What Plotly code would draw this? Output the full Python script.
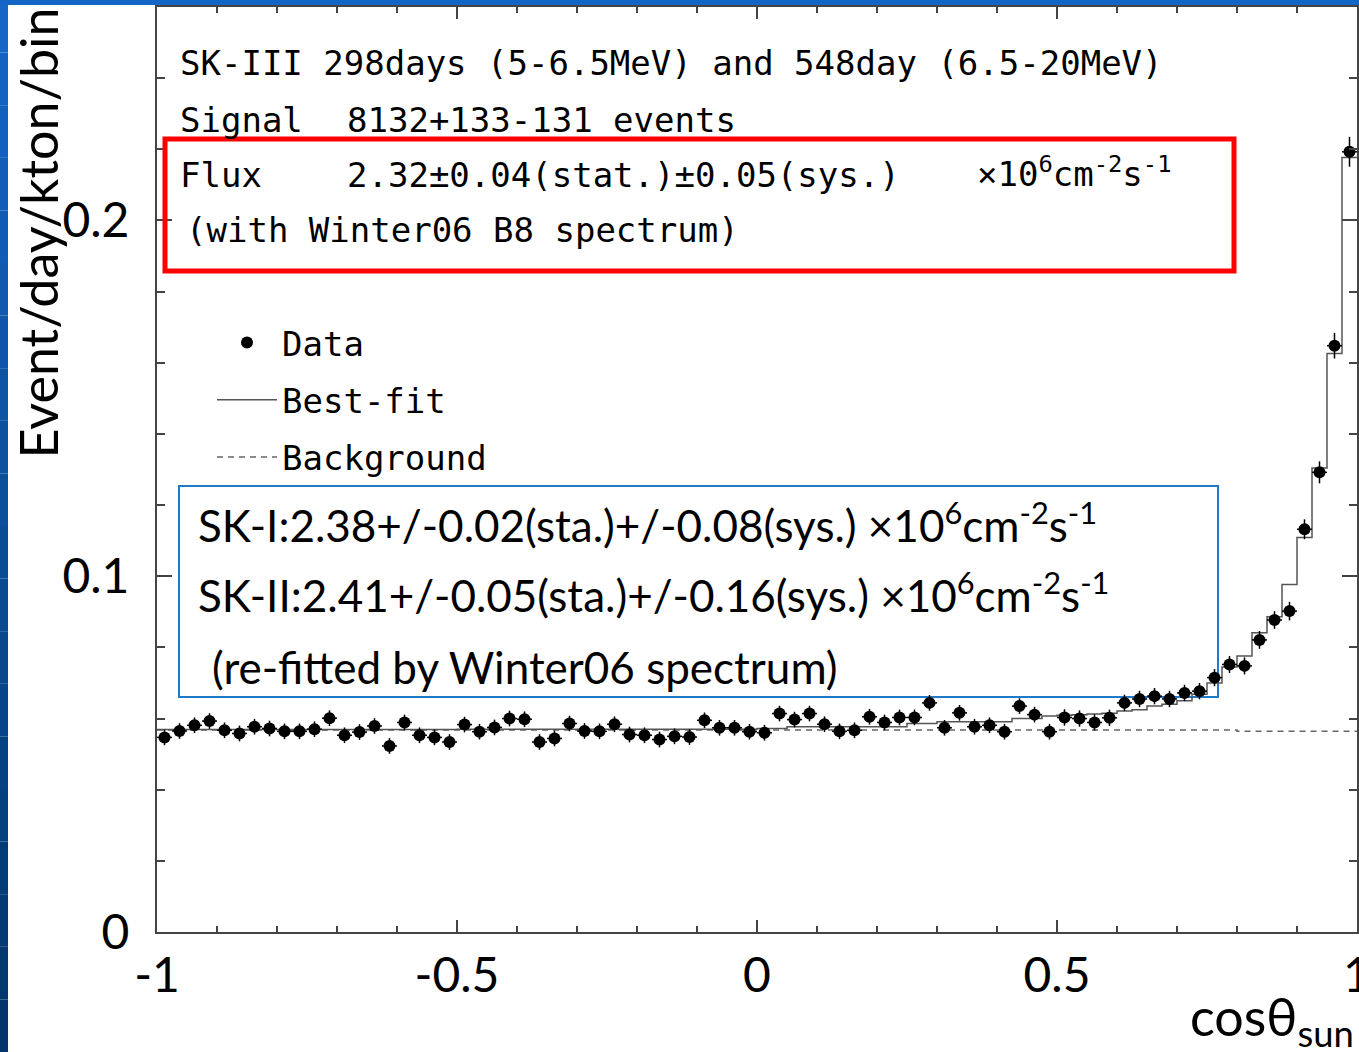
import numpy as np
import plotly.graph_objects as go

# ---------------- data ----------------
n_bins = 80
bin_edges = np.linspace(-1.0, 1.0, n_bins + 1)
bin_centers = 0.5 * (bin_edges[:-1] + bin_edges[1:])

data_values = [
    0.0547, 0.0565, 0.0581, 0.0593, 0.0567, 0.0558, 0.0577, 0.0572, 0.0564, 0.0564,
    0.0570, 0.0601, 0.0553, 0.0562, 0.0579, 0.0523, 0.0589, 0.0553, 0.0547, 0.0534,
    0.0583, 0.0563, 0.0575, 0.0600, 0.0598, 0.0534, 0.0544, 0.0586, 0.0565, 0.0564,
    0.0584, 0.0555, 0.0553, 0.0541, 0.0550, 0.0548, 0.0595, 0.0574, 0.0574, 0.0563,
    0.0560, 0.0614, 0.0597, 0.0614, 0.0584, 0.0564, 0.0567, 0.0605, 0.0589, 0.0603,
    0.0603, 0.0644, 0.0574, 0.0616, 0.0577, 0.0581, 0.0563, 0.0635, 0.0611, 0.0563,
    0.0603, 0.0600, 0.0589, 0.0602, 0.0644, 0.0655, 0.0663, 0.0655, 0.0672, 0.0677,
    0.0715, 0.0752, 0.0748, 0.0821, 0.0877, 0.0902, 0.1132, 0.1292, 0.1648, 0.2193,
]
data_errors = [
    0.0022, 0.0022, 0.0022, 0.0022, 0.0022, 0.0022, 0.0022, 0.0022, 0.0022, 0.0022,
    0.0022, 0.0022, 0.0022, 0.0022, 0.0022, 0.0022, 0.0022, 0.0022, 0.0022, 0.0022,
    0.0022, 0.0022, 0.0022, 0.0022, 0.0022, 0.0022, 0.0022, 0.0022, 0.0022, 0.0022,
    0.0022, 0.0022, 0.0022, 0.0022, 0.0022, 0.0022, 0.0022, 0.0022, 0.0022, 0.0022,
    0.0022, 0.0022, 0.0022, 0.0022, 0.0022, 0.0022, 0.0022, 0.0022, 0.0022, 0.0022,
    0.0022, 0.0022, 0.0022, 0.0022, 0.0022, 0.0022, 0.0022, 0.0022, 0.0022, 0.0022,
    0.0023, 0.0023, 0.0023, 0.0023, 0.0023, 0.0023, 0.0023, 0.0023, 0.0023, 0.0023,
    0.0024, 0.0024, 0.0024, 0.0025, 0.0025, 0.0026, 0.0028, 0.0031, 0.0036, 0.0042,
]
bestfit_values = [
    0.0569, 0.0569, 0.0569, 0.0569, 0.0569, 0.0569, 0.0569, 0.0569, 0.0569, 0.0569,
    0.0569, 0.0569, 0.0569, 0.0569, 0.0569, 0.0569, 0.0569, 0.0569, 0.0569, 0.0569,
    0.0570, 0.0570, 0.0570, 0.0570, 0.0570, 0.0570, 0.0570, 0.0570, 0.0570, 0.0570,
    0.0570, 0.0570, 0.0570, 0.0570, 0.0570, 0.0570, 0.0570, 0.0570, 0.0570, 0.0570,
    0.0572, 0.0572, 0.0577, 0.0577, 0.0577, 0.0577, 0.0577, 0.0577, 0.0577, 0.0577,
    0.0586, 0.0586, 0.0591, 0.0591, 0.0591, 0.0591, 0.0591, 0.0600, 0.0600, 0.0607,
    0.0609, 0.0611, 0.0613, 0.0615, 0.0621, 0.0625, 0.0635, 0.0640, 0.0650, 0.0668,
    0.0700, 0.0745, 0.0776, 0.0841, 0.0886, 0.0977, 0.1109, 0.1304, 0.1626, 0.2177,
]
background_values = [0.0568] * 72 + [0.0564] * 8

x_tick_values = [-1, -0.5, 0, 0.5, 1]
x_tick_labels = ["-1", "-0.5", "0", "0.5", "1"]
y_tick_values = [0, 0.1, 0.2]
y_tick_labels = ["0", "0.1", "0.2"]

# ---------------- layout helpers (pixels -> paper) ----------------
W, H = 1359, 1052
PL, PR, PT, PB = 157, 1357, 7, 932


def px(x):
    return (x - PL) / (PR - PL)


def py(y):
    return (PB - y) / (PB - PT)


MONO = "DejaVu Sans Mono"
SANS = "Lato"

fig = go.Figure()

step_x = list(bin_edges)
fig.add_trace(go.Scatter(
    x=step_x, y=background_values + [background_values[-1]],
    mode="lines", line=dict(shape="hv", color="#666666", width=1.5, dash="6px,5px"),
    name="Background", legendrank=3, legendgroup="c", hoverinfo="skip",
))
fig.add_trace(go.Scatter(
    x=step_x, y=bestfit_values + [bestfit_values[-1]],
    mode="lines", line=dict(shape="hv", color="#555555", width=1.5),
    name="Best-fit", legendrank=2, legendgroup="b", hoverinfo="skip",
))
fig.add_trace(go.Scatter(
    x=bin_centers, y=data_values, mode="markers",
    marker=dict(symbol="circle", size=12, color="black"),
    error_y=dict(type="data", array=data_errors, color="black", thickness=1.5, width=0),
    error_x=dict(type="constant", value=0.0125, color="black", thickness=1.5, width=0),
    name="Data", legendrank=1, legendgroup="a",
))

shapes = []
# slide background strips (blue frame)
n_seg = 20
for i in range(n_seg):
    t = i / (n_seg - 1)
    r = int(0x16 + (0x00 - 0x16) * t)
    g = int(0x66 + (0x36 - 0x66) * t)
    b = int(0xC8 + (0x6A - 0xC8) * t)
    y0 = H * i / n_seg
    y1 = H * (i + 1) / n_seg
    shapes.append(dict(type="rect", xref="paper", yref="paper",
                       x0=px(0), x1=px(8), y0=py(y1), y1=py(y0),
                       fillcolor=f"rgb({r},{g},{b})", line=dict(width=0), layer="above"))
shapes.append(dict(type="rect", xref="paper", yref="paper",
                   x0=px(0), x1=px(W), y0=py(5), y1=py(0),
                   fillcolor="#1466c6", line=dict(width=0), layer="above"))
# red box
shapes.append(dict(type="rect", xref="paper", yref="paper",
                   x0=px(165), x1=px(1234), y0=py(271), y1=py(139),
                   line=dict(color="#ff0000", width=5), layer="above"))
# blue box
shapes.append(dict(type="rect", xref="paper", yref="paper",
                   x0=px(179), x1=px(1218), y0=py(697), y1=py(486),
                   line=dict(color="#1f7ac8", width=2), layer="below"))

annotations = []


def add_text(text, x, y, font, size, xanchor="left", yanchor="middle", angle=0):
    annotations.append(dict(text=text, x=px(x), y=py(y), xref="paper", yref="paper",
                            xanchor=xanchor, yanchor=yanchor, showarrow=False,
                            textangle=angle, font=dict(family=font, size=size, color="black")))


msz = 34
add_text("SK-III 298days (5-6.5MeV) and 548day (6.5-20MeV)", 178, 63, MONO, msz)
add_text("Signal", 178, 120, MONO, msz)
add_text("8132+133-131 events", 345, 120, MONO, msz)
add_text("Flux", 178, 175, MONO, msz)
add_text("2.32±0.04(stat.)±0.05(sys.)", 345, 175, MONO, msz)
add_text("×10<sup>6</sup>cm<sup>-2</sup>s<sup>-1</sup>", 975, 172, MONO, msz)
add_text("(with Winter06 B8 spectrum)", 184, 230, MONO, msz)

bsz = 44
add_text("SK-I:2.38+/-0.02(sta.)+/-0.08(sys.) ×10<sup>6</sup>cm<sup>-2</sup>s<sup>-1</sup>", 196, 522, SANS, bsz)
add_text("SK-II:2.41+/-0.05(sta.)+/-0.16(sys.) ×10<sup>6</sup>cm<sup>-2</sup>s<sup>-1</sup>", 196, 592, SANS, bsz)
add_text("(re-fitted by Winter06 spectrum)", 210, 667, SANS, bsz)

add_text("Event/day/kton/bin", 37, 6, SANS, 52, xanchor="center", yanchor="top", angle=-90)
add_text("cosθ<sub>sun</sub>", 1356, 1020, SANS, 52, xanchor="right")

axis_common = dict(
    showgrid=False, zeroline=False, showline=True, linecolor="#444444", linewidth=2,
    mirror="allticks", ticks="inside", tickcolor="#444444", tickwidth=1.5,
    tickfont=dict(family=SANS, size=48, color="black"), ticklabeloverflow="allow",
)

fig.update_layout(
    width=W, height=H,
    margin=dict(l=PL, r=W - PR, t=PT, b=H - PB, autoexpand=False),
    paper_bgcolor="white", plot_bgcolor="white",
    showlegend=True,
    legend=dict(x=px(212), y=py(314), xanchor="left", yanchor="top",
                bgcolor="rgba(0,0,0,0)", borderwidth=0, tracegroupgap=10,
                font=dict(family=MONO, size=msz, color="black"), itemwidth=60),
    xaxis=dict(range=[-1, 1], tickvals=x_tick_values, ticktext=x_tick_labels,
               ticklen=12, ticklabelstandoff=0,
               minor=dict(dtick=0.1, ticklen=6, ticks="inside", tickcolor="#444444", tickwidth=1.5),
               **axis_common),
    yaxis=dict(range=[0, 0.26], tickvals=y_tick_values, ticktext=y_tick_labels,
               ticklen=15, ticklabelstandoff=16,
               minor=dict(dtick=0.02, ticklen=8, ticks="inside", tickcolor="#444444", tickwidth=1.5),
               **axis_common),
    shapes=shapes,
    annotations=annotations,
)

fig.write_html("out.html")
